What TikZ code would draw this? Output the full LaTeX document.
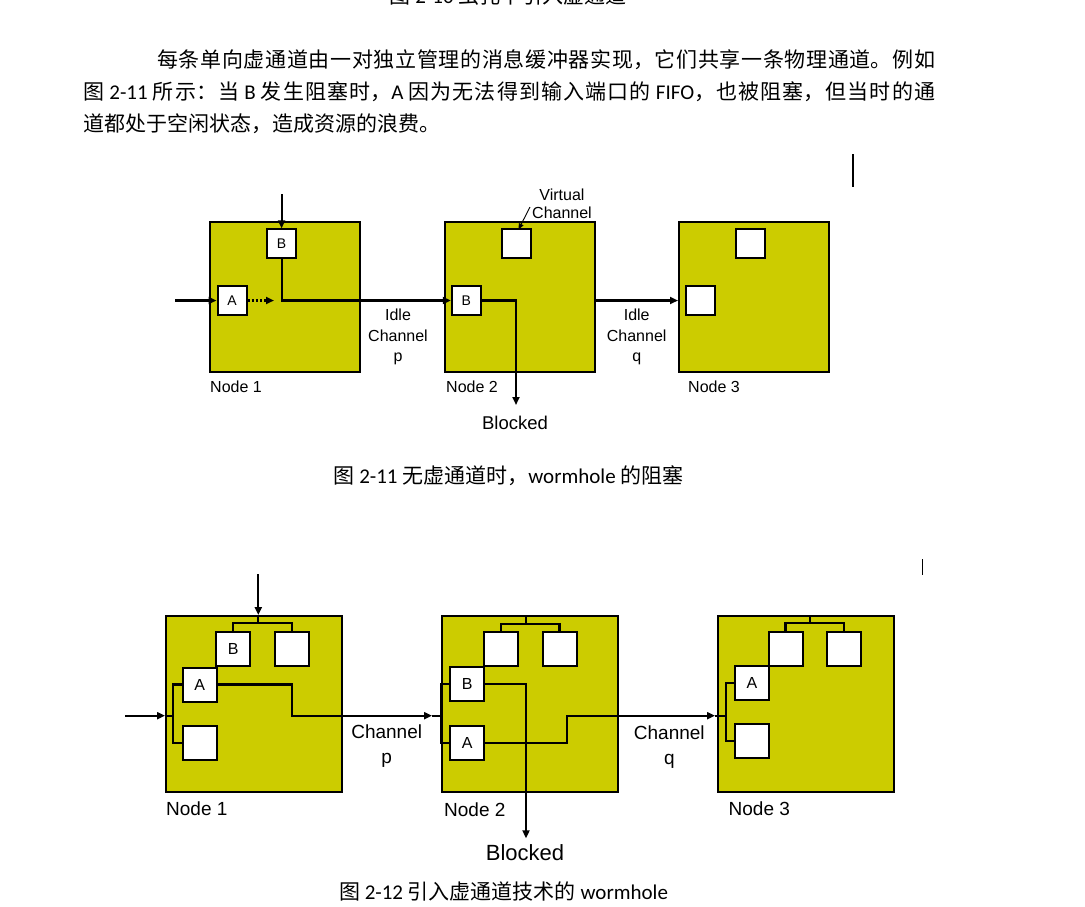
\documentclass[tikz,border=0pt]{standalone}
\usepackage{fontspec}
\setmainfont{Carlito}
\newfontfamily\cjk{Noto Sans CJK SC}
\newfontfamily\arialf{Liberation Sans}
\usetikzlibrary{arrows.meta}
\definecolor{nodefill}{RGB}{204,204,0}
\newcommand\jline[2]{\parbox[b]{#1}{\XeTeXlinebreaklocale "zh"\XeTeXlinebreakskip=0pt plus 6pt\relax\parfillskip=0pt\relax\noindent #2}}
\begin{document}
\begin{tikzpicture}[x=1pt,y=-1pt,
  routerA/.style={draw, line width=2pt, fill=nodefill, inner sep=0pt, minimum width=150pt, minimum height=150pt},
  routerB/.style={draw, line width=2pt, fill=nodefill, inner sep=0pt, minimum width=176pt, minimum height=176pt},
  bufA/.style={draw, line width=2pt, fill=white, inner sep=0pt, minimum size=29pt, font=\arialf\fontsize{14}{14}\selectfont},
  bufB/.style={draw, line width=2pt, fill=white, inner sep=0pt, minimum size=34pt, font=\arialf\fontsize{16}{16}\selectfont},
  wire/.style={line width=2.2pt},
  arr/.style={wire, -{Triangle[length=8pt,width=7pt]}},
  lblA/.style={font=\arialf\fontsize{16}{20.5}\selectfont, align=center, inner sep=0pt},
  lblB/.style={font=\arialf\fontsize{19}{25}\selectfont, align=center, inner sep=0pt},
  txt/.style={inner sep=0pt, font=\fontsize{21}{21}\selectfont}
]
\useasboundingbox (0,0) rectangle (1085,906);

% ---------- text ----------
\node[txt, anchor=base] (cap0) at (508,3) {{\cjk 图} 2-10 {\cjk 虫孔中引入虚通道}};
\node[txt, anchor=base west] (par1) at (157,67) {\jline{778pt}{{\cjk 每条单向虚通道由一对独立管理的消息缓冲器实现，它们共享一条物理通道。例如}}};
\node[txt, anchor=base west] (par2) at (83,99) {\jline{852pt}{{\cjk 图} 2-11 {\cjk 所示：当} B {\cjk 发生阻塞时，}A {\cjk 因为无法得到输入端口的} FIFO{\cjk ，也被阻塞，但当时的通}}};
\node[txt, anchor=base west] (par3) at (83,131) {{\cjk 道都处于空闲状态，造成资源的浪费。}};
\node[txt, anchor=base] (cap1) at (508.5,483) {{\cjk 图} 2-11 {\cjk 无虚通道时，}wormhole {\cjk 的阻塞}};
\node[txt, anchor=base] (cap2) at (503.5,899) {{\cjk 图} 2-12 {\cjk 引入虚通道技术的} wormhole};
\draw[line width=1.8pt] (853,154) -- (853,187);
\draw[line width=1.8pt] (922.5,559) -- (922.5,575);

% ---------- figure 2-11 ----------
\node[routerA] (N1) at (285,297) {};
\node[routerA] (N2) at (519.5,297) {};
\node[routerA] (N3) at (754,297) {};
\node[bufA] (B1) at (281.6,243.8) {B};
\node[bufA] (A1) at (232,300.5) {A};
\node[bufA] (V2) at (516.2,243.8) {};
\node[bufA] (B2) at (466.3,300.5) {B};
\node[bufA] (T3) at (750.5,243.8) {};
\node[bufA] (L3) at (700.8,300.5) {};

\coordinate (inB1) at (281.6,194);
\coordinate (inA1) at (175,300.5);
\coordinate (dotEnd) at (274,300.5);
\coordinate (blk1) at (516,405);
\coordinate (vcFrom) at (530,207);
\coordinate (vcTo) at (518.5,229.5);

\draw[arr] (inB1) -- (B1.north);
\draw[arr] (inA1) -- (A1.west);
\draw[arr, dotted] (A1.east) -- (dotEnd);
\draw[arr] (B1.south) |- (B2.west);
\draw[arr] (B2.east) -| (blk1);
\draw[arr] (N2.east |- B2) -- (N3.west |- B2);
\draw[line width=0.9pt, -{Triangle[length=6pt,width=5pt]}] (vcFrom) -- (vcTo);

\node[lblA] (idp) at (398,337) {Idle\\Channel\\p};
\node[lblA] (idq) at (636.7,337) {Idle\\Channel\\q};
\node[lblA, anchor=west] (n1l) at (210,387) {Node 1};
\node[lblA, anchor=west] (n2l) at (446,387) {Node 2};
\node[lblA, anchor=west] (n3l) at (688,387) {Node 3};
\node[lblA, font=\arialf\fontsize{18.5}{20}\selectfont] (blkl1) at (515,423) {Blocked};
\node[lblA, font=\arialf\fontsize{16}{18}\selectfont] (vcl) at (562,204) {Virtual\\Channel};

% ---------- figure 2-12 ----------
\node[routerB] (M1) at (254,704) {};
\node[routerB] (M2) at (530.3,704) {};
\node[routerB] (M3) at (806,704) {};

\node[bufB] (P1B) at (233.3,649.2) {B};
\node[bufB] (P1E) at (291.7,649.2) {};
\node[bufB] (P1A) at (199.7,684.5) {A};
\node[bufB] (P1F) at (199.7,743.2) {};

\node[bufB] (P2T) at (500.8,649.2) {};
\node[bufB] (P2U) at (559.5,649.2) {};
\node[bufB] (P2B) at (467.3,684) {B};
\node[bufB] (P2A) at (467.3,742.7) {A};

\node[bufB] (P3T) at (785.5,649.3) {};
\node[bufB] (P3U) at (843.7,649.3) {};
\node[bufB] (P3A) at (752,683) {A};
\node[bufB] (P3F) at (752,741.3) {};

% top forks
\coordinate (t1) at (258.3,574);
\coordinate (t1j) at (258.3,623.3);
\coordinate (t2j) at (526,624);
\coordinate (t3j) at (810,623.3);
\draw[arr] (t1) -- (t1 |- M1.north);
\draw[wire] (t1 |- M1.north) -- (t1j);
\draw[wire] (P1B.north) |- (t1j) -| (P1E.north);
\draw[wire] (t2j |- M2.north) -- (t2j);
\draw[wire] (P2T.north) |- (t2j) -| (P2U.north);
\draw[wire] (t3j |- M3.north) -- (t3j);
\draw[wire] (P3T.north) |- (t3j) -| (P3U.north);

% left forks
\coordinate (l1) at (125,715.7);
\coordinate (l1v) at (173.3,715.7);
\coordinate (l2v) at (441.3,715.7);
\coordinate (l3v) at (726,715.7);
\draw[arr] (l1) -- (l1 -| M1.west);
\draw[wire] (l1 -| M1.west) -- (l1v);
\draw[wire] (P1A.west) -| (l1v) |- (P1F.west);
\draw[wire] (P2B.west) -| (l2v) |- (P2A.west);
\draw[wire] (P3A.west) -| (l3v) |- (P3F.west);

% routes
\coordinate (c1) at (291.7,715.7);
\coordinate (e2) at (432,715.7);
\coordinate (c2) at (567.3,715.7);
\coordinate (e3) at (715,715.7);
\coordinate (blk2) at (526,838.3);
\draw[arr] (P1A.east) -| (c1) -- (e2);
\draw[wire] (e2) -- (l2v);
\draw[arr] (P2B.east) -| (blk2);
\draw[arr] (P2A.east) -| (c2) -- (e3);
\draw[wire] (e3) -- (l3v);

\node[lblB] (chp) at (386.7,746.5) {Channel\\p};
\node[lblB] (chq) at (669.3,747.5) {Channel\\q};
\node[lblB, anchor=west] (m1l) at (166,808.3) {Node 1};
\node[lblB, anchor=west] (m2l) at (444,809.3) {Node 2};
\node[lblB, anchor=west] (m3l) at (728.5,808.3) {Node 3};
\node[lblB, font=\arialf\fontsize{22}{22}\selectfont] (blkl2) at (525,852.7) {Blocked};
\end{tikzpicture}
\end{document}
